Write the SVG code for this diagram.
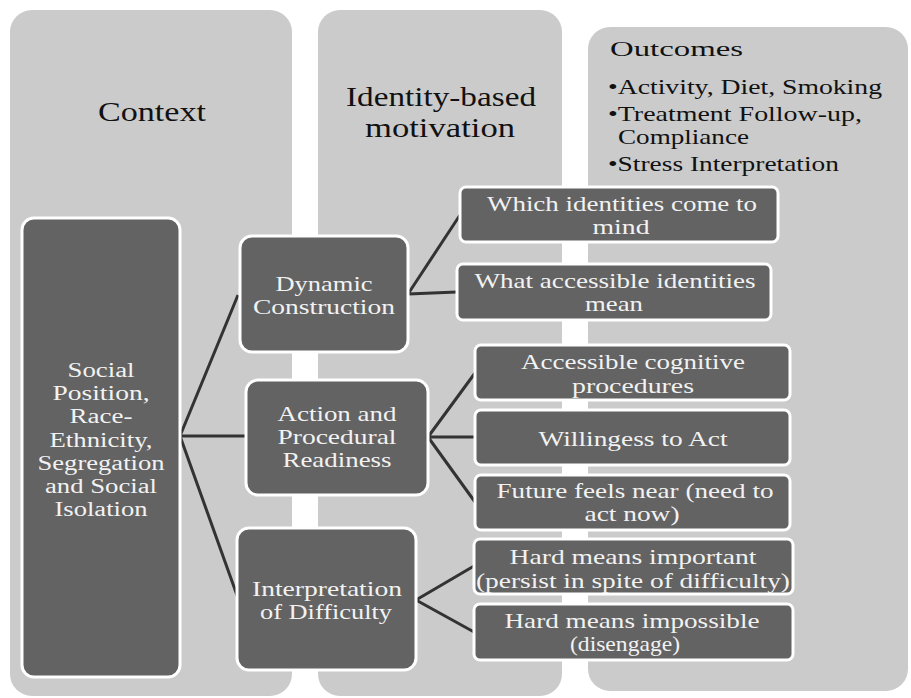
<svg xmlns="http://www.w3.org/2000/svg" width="911" height="698" viewBox="0 0 911 698">
<style>
.col{fill:#cbcbcb}
.box{fill:#636363;stroke:#ffffff;stroke-width:3}
.hd{font-family:"Liberation Serif","Times New Roman",serif;fill:#111;text-anchor:middle}
.bl{font-family:"Liberation Serif","Times New Roman",serif;fill:#111;font-size:22px}
.bt{font-family:"Liberation Serif","Times New Roman",serif;fill:#f2f2f2;font-size:22px;text-anchor:middle}
.sm{font-size:20px}
.ln{stroke:#333;stroke-width:3;fill:none}
</style>
<rect width="911" height="698" fill="#fff"/>
<g id="col-context"><rect class="col" x="10" y="10" width="282" height="686" rx="22"/>
<text class="hd" x="152" y="121" font-size="28" textLength="108" lengthAdjust="spacingAndGlyphs">Context</text></g>
<g id="col-ibm"><rect class="col" x="318" y="10" width="244" height="686" rx="22"/>
<text class="hd" x="441" y="106" font-size="28" textLength="190" lengthAdjust="spacingAndGlyphs">Identity-based</text>
<text class="hd" x="440" y="137" font-size="28" textLength="150" lengthAdjust="spacingAndGlyphs">motivation</text></g>
<g id="col-outcomes"><rect class="col" x="588" y="27" width="320" height="664" rx="22"/>
<text class="bl" x="610" y="56" font-size="26" textLength="133" lengthAdjust="spacingAndGlyphs">Outcomes</text>
<text class="bl" x="608" y="94" textLength="274" lengthAdjust="spacingAndGlyphs">•Activity, Diet, Smoking</text>
<text class="bl" x="608" y="121" textLength="254" lengthAdjust="spacingAndGlyphs">•Treatment Follow-up,</text>
<text class="bl" x="618" y="144" textLength="131" lengthAdjust="spacingAndGlyphs">Compliance</text>
<text class="bl" x="608" y="171" textLength="231" lengthAdjust="spacingAndGlyphs">•Stress Interpretation</text></g>
<g id="connectors">
<path class="ln" d="M180,436 L238,295 M180,436 L246,436 M180,436 L238,598"/>
<path class="ln" d="M408,294 L460,215 M408,294 L457,292"/>
<path class="ln" d="M428,437 L475,373 M428,437 L475,437 M428,437 L475,502"/>
<path class="ln" d="M416,600 L474,566 M416,600 L474,632"/>
</g>
<g id="social"><rect class="box" x="22" y="218" width="158" height="459" rx="12"/>
<text class="bt sm" x="101" y="377" textLength="67" lengthAdjust="spacingAndGlyphs">Social</text>
<text class="bt sm" x="101" y="400" textLength="97" lengthAdjust="spacingAndGlyphs">Position,</text>
<text class="bt sm" x="101" y="423" textLength="63" lengthAdjust="spacingAndGlyphs">Race-</text>
<text class="bt sm" x="101" y="447" textLength="103" lengthAdjust="spacingAndGlyphs">Ethnicity,</text>
<text class="bt sm" x="101" y="470" textLength="127" lengthAdjust="spacingAndGlyphs">Segregation</text>
<text class="bt sm" x="101" y="493" textLength="112" lengthAdjust="spacingAndGlyphs">and Social</text>
<text class="bt sm" x="101" y="516" textLength="93" lengthAdjust="spacingAndGlyphs">Isolation</text></g>
<g id="dynamic"><rect class="box" x="240" y="236" width="168" height="116" rx="12"/>
<text class="bt" x="324" y="291" textLength="97" lengthAdjust="spacingAndGlyphs">Dynamic</text>
<text class="bt" x="324" y="314" textLength="142" lengthAdjust="spacingAndGlyphs">Construction</text></g>
<g id="action"><rect class="box" x="246" y="380" width="182" height="115" rx="12"/>
<text class="bt" x="337" y="421" textLength="119" lengthAdjust="spacingAndGlyphs">Action and</text>
<text class="bt" x="337" y="444" textLength="119" lengthAdjust="spacingAndGlyphs">Procedural</text>
<text class="bt" x="337" y="467" textLength="109" lengthAdjust="spacingAndGlyphs">Readiness</text></g>
<g id="interp"><rect class="box" x="237" y="528" width="179" height="142" rx="12"/>
<text class="bt" x="327" y="596" textLength="150" lengthAdjust="spacingAndGlyphs">Interpretation</text>
<text class="bt" x="326" y="619" textLength="132" lengthAdjust="spacingAndGlyphs">of Difficulty</text></g>
<g id="which"><rect class="box" x="460" y="187" width="318" height="55" rx="6"/>
<text class="bt" x="622" y="211" textLength="270" lengthAdjust="spacingAndGlyphs">Which identities come to</text>
<text class="bt" x="621" y="234" textLength="57" lengthAdjust="spacingAndGlyphs">mind</text></g>
<g id="what"><rect class="box" x="457" y="264" width="314" height="56" rx="6"/>
<text class="bt" x="615" y="288" textLength="281" lengthAdjust="spacingAndGlyphs">What accessible identities</text>
<text class="bt" x="614" y="311" textLength="58" lengthAdjust="spacingAndGlyphs">mean</text></g>
<g id="accessible"><rect class="box" x="475" y="345" width="315" height="55" rx="6"/>
<text class="bt" x="633" y="369" textLength="224" lengthAdjust="spacingAndGlyphs">Accessible cognitive</text>
<text class="bt" x="633" y="393" textLength="122" lengthAdjust="spacingAndGlyphs">procedures</text></g>
<g id="willing"><rect class="box" x="475" y="410" width="315" height="55" rx="6"/>
<text class="bt" x="633" y="446" textLength="189" lengthAdjust="spacingAndGlyphs">Willingess to Act</text></g>
<g id="future"><rect class="box" x="475" y="475" width="315" height="55" rx="6"/>
<text class="bt" x="635" y="498" textLength="277" lengthAdjust="spacingAndGlyphs">Future feels near (need to</text>
<text class="bt" x="632" y="521" textLength="95" lengthAdjust="spacingAndGlyphs">act now)</text></g>
<g id="hardimp"><rect class="box" x="474" y="539" width="319" height="55" rx="6"/>
<text class="bt" x="633" y="564" textLength="247" lengthAdjust="spacingAndGlyphs">Hard means important</text>
<text class="bt" x="633" y="588" textLength="314" lengthAdjust="spacingAndGlyphs">(persist in spite of difficulty)</text></g>
<g id="hardimposs"><rect class="box" x="474" y="604" width="319" height="56" rx="6"/>
<text class="bt" x="632" y="628" textLength="255" lengthAdjust="spacingAndGlyphs">Hard means impossible</text>
<text class="bt" x="625" y="651" textLength="110" lengthAdjust="spacingAndGlyphs">(disengage)</text></g>
</svg>
